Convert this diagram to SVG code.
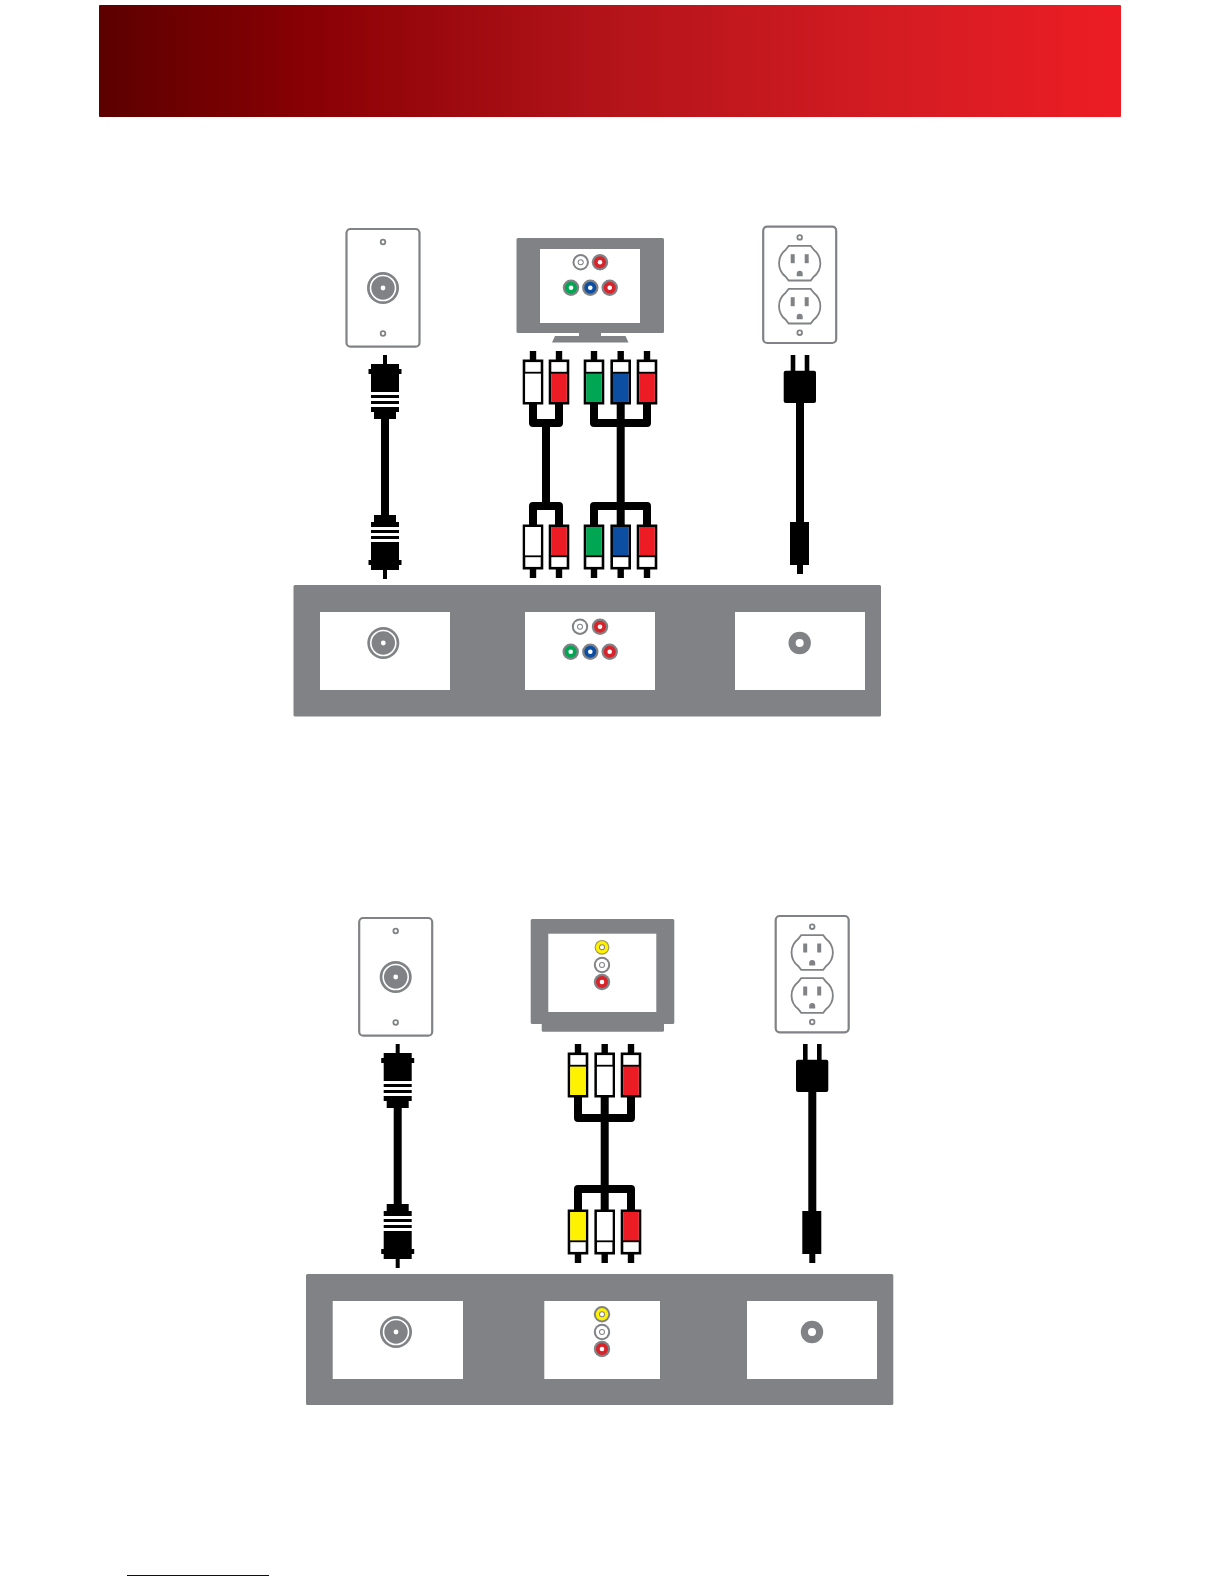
<svg xmlns="http://www.w3.org/2000/svg" xmlns:xlink="http://www.w3.org/1999/xlink" width="1224" height="1584" viewBox="0 0 1224 1584">
<style>
.g{fill:#808285}
.w{fill:#fff}
.k{fill:#000}
.plate{fill:#fff;stroke:#808285;stroke-width:2.2}
.face{fill:#fff;stroke:#808285;stroke-width:1.8}
.cable{fill:none;stroke:#000;stroke-width:8;stroke-linejoin:round}
.body{fill:#fff;stroke:#000;stroke-width:2.6}
</style>
<defs>
<linearGradient id="hdr" x1="0" y1="0" x2="1" y2="0">
<stop offset="0" stop-color="#5c0000"/>
<stop offset="0.2" stop-color="#880004"/>
<stop offset="0.5" stop-color="#b3141a"/>
<stop offset="0.8" stop-color="#d71c23"/>
<stop offset="1" stop-color="#ed1c24"/>
</linearGradient>
<g id="jack"><circle r="8.2" class="g"/><circle r="6" fill="currentColor"/><circle r="2.3" class="w"/></g>
<g id="jackW"><circle r="8.2" class="g"/><circle r="6.2" class="w"/><circle r="3" class="g"/><circle r="2" class="w"/></g>
<g id="jackY"><circle r="7.4" fill="#a09a50"/><circle r="6.2" fill="#fff200"/><circle r="3" class="g"/><circle r="2" class="w"/></g>
<g id="jackYB"><circle r="8.2" class="g"/><circle r="6.2" fill="#fff200"/><circle r="3" class="g"/><circle r="2" class="w"/></g>
<g id="coaxjack"><circle r="16" class="g"/><circle r="12.5" fill="none" stroke="#fff" stroke-width="1.6"/><circle r="2.4" class="w"/></g>
<g id="screw"><circle r="3.2" class="g"/><circle r="1.4" class="w"/></g>
<g id="rca">
<rect x="-3.2" y="0" width="6.4" height="10" class="k"/>
<rect x="-9" y="9.8" width="18" height="42.4" class="body"/>
<rect x="-7.8" y="22" width="15.6" height="29" fill="currentColor"/>
<rect x="-9" y="20.8" width="18" height="1.8" class="k"/>
</g>
<g id="coaxplug">
<rect x="-2" y="0" width="4" height="10" class="k"/>
<rect x="-14" y="9" width="28" height="28" class="k"/>
<rect x="-16.5" y="14" width="33" height="5" class="k"/>
<rect x="-14" y="40" width="28" height="3" class="k"/>
<rect x="-14" y="46" width="28" height="3" class="k"/>
<rect x="-14" y="52" width="28" height="5" class="k"/>
<rect x="-11" y="57" width="22" height="7" class="k"/>
</g>
<g id="face">
<path class="face" d="M-11,-17.3H11L14,-13.5A17,17 0 0 1 14,13.5L11,17.3H-11L-14,13.5A17,17 0 0 1 -14,-13.5Z"/>
<rect x="-9" y="-9" width="4" height="9" class="g"/>
<rect x="5" y="-9" width="4" height="9" class="g"/>
<path class="g" d="M-3,13V10.5A3,3 0 0 1 3,10.5V13Z"/>
</g>
<g id="outlet">
<rect x="-36.5" y="-58" width="73" height="116.3" rx="4" class="plate"/>
<use href="#screw" y="-47.3"/><use href="#screw" y="48"/>
<use href="#face" y="-21.5"/><use href="#face" y="21.5"/>
</g>
<g id="wallplate">
<rect x="-36.5" y="-59" width="73" height="117.7" rx="4" class="plate"/>
<use href="#screw" y="-46"/><use href="#screw" y="45.5"/>
<use href="#coaxjack"/>
</g>
<g id="coaxcable">
<use href="#coaxplug" x="385" y="355"/>
<use href="#coaxplug" transform="translate(385 579) scale(1 -1)"/>
<rect x="381" y="415" width="8" height="104" class="k"/>
</g>
<g id="powercable">
<rect x="790.7" y="355" width="4.6" height="17" class="k"/>
<rect x="804.7" y="355" width="4.6" height="17" class="k"/>
<rect x="783.7" y="370.7" width="32.3" height="32.3" rx="2" class="k"/>
<rect x="796" y="403" width="8" height="120" class="k"/>
<rect x="790" y="522" width="19" height="43" class="k"/>
<rect x="797" y="564" width="6" height="10" class="k"/>
</g>
</defs>

<rect id="header" x="99" y="5" width="1022" height="112" rx="1" fill="url(#hdr)"/>

<g id="wall-plate-1"><use href="#wallplate" x="383" y="288"/></g>

<g id="tv-1">
<rect x="516.5" y="238" width="147.5" height="95" rx="1.5" class="g"/>
<rect x="540" y="249" width="100" height="74" class="w"/>
<path class="g" d="M579,333H601V336H625.5L628.5,342.5H552L555,336H579Z"/>
<use href="#jackW" x="580.7" y="262.3"/>
<use href="#jack" x="600" y="262.3" color="#d9232b"/>
<use href="#jack" x="571" y="287.7" color="#00a651"/>
<use href="#jack" x="590.3" y="287.7" color="#0b4ea2"/>
<use href="#jack" x="609.7" y="287.7" color="#d9232b"/>
</g>

<g id="outlet-1"><use href="#outlet" x="799.7" y="284.7"/></g>

<g id="panel-1">
<rect x="293.5" y="585" width="587.5" height="131.5" rx="1.5" class="g"/>
<rect x="320" y="612" width="130" height="78" class="w"/>
<rect x="525" y="612" width="130" height="78" class="w"/>
<rect x="735" y="612" width="130" height="78" class="w"/>
<use href="#coaxjack" x="383.3" y="643"/>
<use href="#jackW" x="580" y="626.7"/>
<use href="#jack" x="600" y="626.7" color="#d9232b"/>
<use href="#jack" x="570.7" y="651.7" color="#00a651"/>
<use href="#jack" x="590.3" y="651.7" color="#0b4ea2"/>
<use href="#jack" x="609.7" y="651.7" color="#d9232b"/>
<circle cx="799.7" cy="643" r="11.2" class="g"/><circle cx="799.7" cy="643" r="4" class="w"/>
</g>

<g id="connectors-1">
<use href="#coaxcable"/>
<use href="#powercable"/>
<path class="cable" d="M533,403V423H559V403M546,423V506M533,525V506H559V525"/>
<path class="cable" d="M594,403V423H647V403M620.7,403V525M594,525V506H647V525"/>
<use href="#rca" x="533" y="351" color="#fff"/>
<use href="#rca" x="559" y="351" color="#ed1c24"/>
<use href="#rca" x="594" y="351" color="#00a651"/>
<use href="#rca" x="620.7" y="351" color="#0b4ea2"/>
<use href="#rca" x="647" y="351" color="#ed1c24"/>
<use href="#rca" transform="translate(533 578) scale(1 -1)" color="#fff"/>
<use href="#rca" transform="translate(559 578) scale(1 -1)" color="#ed1c24"/>
<use href="#rca" transform="translate(594 578) scale(1 -1)" color="#00a651"/>
<use href="#rca" transform="translate(620.7 578) scale(1 -1)" color="#0b4ea2"/>
<use href="#rca" transform="translate(647 578) scale(1 -1)" color="#ed1c24"/>
</g>

<g id="wall-plate-2"><use href="#wallplate" x="395.7" y="977"/></g>

<g id="tv-2">
<rect x="530.7" y="919" width="143.6" height="105" rx="1.5" class="g"/>
<rect x="541.7" y="1020" width="122.3" height="11.7" rx="1.5" class="g"/>
<rect x="548.3" y="933.7" width="108" height="78.3" class="w"/>
<use href="#jackY" x="602" y="947.3"/>
<use href="#jackW" x="602" y="965"/>
<use href="#jack" x="602" y="982" color="#d9232b"/>
</g>

<g id="outlet-2"><use href="#outlet" x="812.2" y="974"/></g>

<g id="panel-2">
<rect x="306" y="1274" width="587.3" height="131" rx="1.5" class="g"/>
<rect x="332.7" y="1301" width="130.3" height="78" class="w"/>
<rect x="544.3" y="1301" width="115.7" height="78" class="w"/>
<rect x="747" y="1301" width="130" height="78" class="w"/>
<use href="#coaxjack" x="396" y="1332"/>
<use href="#jackYB" x="602" y="1314.3"/>
<use href="#jackW" x="602" y="1332"/>
<use href="#jack" x="602" y="1349" color="#d9232b"/>
<circle cx="812" cy="1332" r="11.2" class="g"/><circle cx="812" cy="1332" r="4" class="w"/>
</g>

<g id="connectors-2">
<use href="#coaxcable" transform="translate(12.7 689)"/>
<use href="#powercable" transform="translate(12.3 689)"/>
<path class="cable" d="M578,1096V1118H631V1096M604.7,1096V1211M578,1211V1189H631V1211"/>
<use href="#rca" x="578" y="1044" color="#fff200"/>
<use href="#rca" x="604.7" y="1044" color="#fff"/>
<use href="#rca" x="631" y="1044" color="#ed1c24"/>
<use href="#rca" transform="translate(578 1263) scale(1 -1)" color="#fff200"/>
<use href="#rca" transform="translate(604.7 1263) scale(1 -1)" color="#fff"/>
<use href="#rca" transform="translate(631 1263) scale(1 -1)" color="#ed1c24"/>
</g>

<rect id="footer-rule" x="127" y="1575" width="142" height="1" fill="#000080"/>
</svg>
